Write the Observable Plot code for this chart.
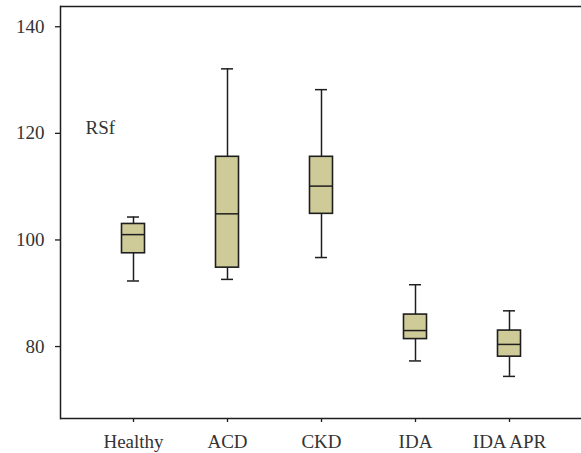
<!DOCTYPE html>
<html>
<head>
<meta charset="utf-8">
<script src="https://cdn.jsdelivr.net/npm/d3@7"></script>
<script src="https://cdn.jsdelivr.net/npm/@observablehq/plot@0.6"></script>
<style>
  html, body { margin: 0; padding: 0; background: #fff; }
  #chart svg { display: block; }
  #chart svg text { font-family: "Liberation Serif", "DejaVu Serif", serif; font-size: 19px; }
</style>
</head>
<body>
<div id="chart"></div>
<script>
const groups = ["Healthy", "ACD", "CKD", "IDA", "IDA APR"];
const whiskerLow = [92.3, 92.6, 96.7, 77.3, 74.4];
const q1 = [97.5, 94.8, 104.9, 81.4, 78.1];
const median = [101.0, 104.9, 110.1, 83.0, 80.4];
const q3 = [103.0, 115.6, 115.6, 86.0, 83.0];
const whiskerHigh = [104.3, 132.1, 128.2, 91.6, 86.7];
const yTicks = [80, 100, 120, 140];
const yDomain = [66.5, 143.8];
const label = "RSf";

const rows = groups.map((g, i) => ({
  group: g, lo: whiskerLow[i], q1: q1[i], med: median[i], q3: q3[i], hi: whiskerHigh[i]
}));

const fill = "#cecb99";
const ink = "#1e1e1e";
const boxInset = 35.5;
const capInset = 41;

const chart = Plot.plot({
  width: 581,
  height: 453,
  marginLeft: 60,
  marginRight: 0,
  marginTop: 6,
  marginBottom: 35,
  style: { fontFamily: "'Liberation Serif', serif", fontSize: "19px", color: "#333", background: "#fff" },
  x: { type: "band", domain: groups, paddingInner: 0, paddingOuter: 0.26, label: null },
  y: { domain: yDomain, label: null },
  marks: [
    Plot.frame({ anchor: "left", stroke: ink, strokeWidth: 1.5 }),
    Plot.ruleY([yDomain[1]], { stroke: ink, strokeWidth: 1.5 }),
    Plot.ruleY([yDomain[0]], { stroke: ink, strokeWidth: 1.5 }),
    Plot.axisY({ ticks: yTicks, tickSize: 5, tickPadding: 11, label: null, stroke: ink, strokeWidth: 1.3, fill: "#333", fontSize: 19 }),
    Plot.axisX({ tickSize: 4, tickPadding: 12, label: null, stroke: ink, strokeWidth: 1.3, fill: "#333", fontSize: 19 }),
    Plot.ruleX(rows, { x: "group", y1: "lo", y2: "hi", stroke: ink, strokeWidth: 1.5 }),
    Plot.tickY(rows, { x: "group", y: "lo", stroke: ink, strokeWidth: 1.5, insetLeft: capInset, insetRight: capInset }),
    Plot.tickY(rows, { x: "group", y: "hi", stroke: ink, strokeWidth: 1.5, insetLeft: capInset, insetRight: capInset }),
    Plot.barY(rows, { x: "group", y1: "q1", y2: "q3", fill: fill, stroke: ink, strokeWidth: 1.6, insetLeft: boxInset, insetRight: boxInset }),
    Plot.tickY(rows, { x: "group", y: "med", stroke: ink, strokeWidth: 1.5, insetLeft: boxInset, insetRight: boxInset }),
    Plot.text([label], { frameAnchor: "top-left", textAnchor: "start", lineAnchor: "bottom", dx: 25, dy: 127, fill: "#333", fontSize: 19 })
  ]
});
document.getElementById("chart").appendChild(chart);
</script>
</body>
</html>
